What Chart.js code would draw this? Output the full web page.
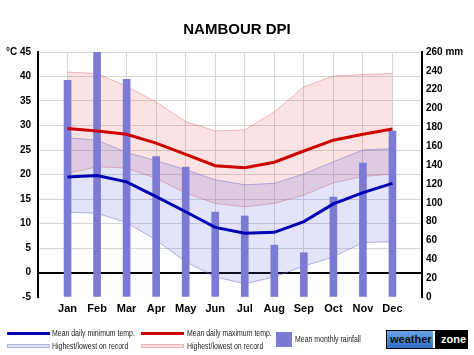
<!DOCTYPE html>
<html><head><meta charset="utf-8">
<script src="https://cdn.jsdelivr.net/npm/chart.js@4.4.0/dist/chart.umd.min.js"></script>
<style>
html,body{margin:0;padding:0;background:#fff;}
#wrap{position:relative;width:474px;height:355px;overflow:hidden;font-family:"Liberation Sans",Arial,sans-serif;}
#c{position:absolute;left:0;top:0;}
#title{position:absolute;left:0;width:474px;top:20px;line-height:18px;text-align:center;font-weight:bold;font-size:15px;color:#000;}
.lg{position:absolute;font-family:"Liberation Sans",Arial,sans-serif;font-size:9px;color:#222;line-height:10px;white-space:nowrap;transform:scaleX(0.77);transform-origin:0 0;}
.sw{position:absolute;box-sizing:border-box;}
#logo{position:absolute;left:386px;top:330px;width:82px;height:19px;border:1px solid #000;box-sizing:border-box;display:flex;font-family:"Liberation Sans",Arial,sans-serif;font-weight:bold;font-size:11px;line-height:17px;overflow:hidden;white-space:nowrap;}
#logo .w{background:linear-gradient(#6aa6e6,#2f6fc4);color:#111;padding:0 0 0 3px;width:46px;box-sizing:border-box;}
#logo .z{background:#000;color:#fff;padding-left:6px;flex:1;border-left:2px solid #fff;transform:skewX(0deg);}
</style></head>
<body>
<div id="wrap">
<canvas id="c" width="474" height="355"></canvas>
<div id="title">NAMBOUR DPI</div>
<div class="sw" style="left:7px;top:332px;width:43px;height:3px;background:#0000b0;"></div>
<div class="lg" style="left:52px;top:328px;">Mean daily minimum temp.</div>
<div class="sw" style="left:7px;top:344px;width:43px;height:4px;background:#e2e2fa;border:1px solid #b4b4e0;"></div>
<div class="lg" style="left:52px;top:341px;">Highest/lowest on record</div>
<div class="sw" style="left:141px;top:332px;width:43px;height:3px;background:#cc0000;"></div>
<div class="lg" style="left:187px;top:328px;">Mean daily maximum temp.</div>
<div class="sw" style="left:141px;top:344px;width:43px;height:4px;background:#fbe2e2;border:1px solid #eab4b4;"></div>
<div class="lg" style="left:187px;top:341px;">Highest/lowest on record</div>
<div class="sw" style="left:276px;top:332px;width:16px;height:15px;background:#7b7bd5;"></div>
<div class="lg" style="left:295px;top:334px;">Mean monthly rainfall</div>
<div id="logo"><span class="w">weather</span><span class="z">zone</span></div>
</div>
<script>
const months = ['Jan','Feb','Mar','Apr','May','Jun','Jul','Aug','Sep','Oct','Nov','Dec'];
const meanMax = [29.4, 28.9, 28.2, 26.4, 24.1, 21.8, 21.4, 22.5, 24.8, 27.0, 28.2, 29.3];
const meanMin = [19.5, 19.8, 18.5, 15.5, 12.4, 9.2, 8.0, 8.2, 10.4, 14.0, 16.3, 18.2];
const highestMax = [40.9, 40.6, 38.0, 34.8, 30.8, 28.9, 29.1, 32.8, 37.9, 40.1, 40.4, 40.6];
const lowestMax = [20.2, 21.6, 21.3, 19.2, 16.2, 14.1, 13.4, 14.1, 15.8, 18.3, 19.6, 20.1];
const highestMin = [27.5, 27.0, 24.5, 22.8, 21.0, 18.9, 17.9, 18.2, 20.1, 22.6, 25.0, 25.3];
const lowestMin = [12.3, 12.1, 10.2, 6.6, 2.2, -0.9, -2.3, -0.9, 1.3, 3.2, 6.1, 6.3];
const rainfall = [230, 260, 231, 149, 138, 90, 86, 55, 47, 106, 142, 176];

const pts = arr => arr.map((v, i) => ({x: i, y: v}));
const tickFont = {family: '"Liberation Sans", Arial, sans-serif', weight: 'bold', size: 10};

new Chart(document.getElementById('c'), {
  type: 'line',
  data: {
    datasets: [
      {data: pts(highestMax), borderColor: 'rgba(215,110,110,0.45)', borderWidth: 1, backgroundColor: 'rgba(230,60,60,0.14)', fill: '+1', pointRadius: 0, order: 5, yAxisID: 'y'},
      {data: pts(lowestMax), borderColor: 'rgba(215,110,110,0.45)', borderWidth: 1, fill: false, pointRadius: 0, order: 5, yAxisID: 'y'},
      {data: pts(highestMin), borderColor: 'rgba(110,110,200,0.5)', borderWidth: 1, backgroundColor: 'rgba(80,80,220,0.16)', fill: '+1', pointRadius: 0, order: 4, yAxisID: 'y'},
      {data: pts(lowestMin), borderColor: 'rgba(110,110,200,0.5)', borderWidth: 1, fill: false, pointRadius: 0, order: 4, yAxisID: 'y'},
      {type: 'bar', data: pts(rainfall), backgroundColor: '#7b7bd5', barThickness: 7, order: 3, yAxisID: 'y1'},
      {data: pts(meanMax), borderColor: '#cc0000', borderWidth: 3, fill: false, pointRadius: 0, order: 1, yAxisID: 'y'},
      {data: pts(meanMin), borderColor: '#0000b4', borderWidth: 3, fill: false, pointRadius: 0, order: 1, yAxisID: 'y'}
    ]
  },
  options: {
    responsive: false,
    animation: false,
    devicePixelRatio: 1,
    layout: {padding: {top: 52, left: 0, right: 0, bottom: 0}},
    plugins: {legend: {display: false}, tooltip: {enabled: false}, title: {display: false}},
    scales: {
      x: {
        type: 'linear', min: -1, max: 12, offset: false,
        afterFit: s => { s.height = 58; },
        grid: {color: '#d6d6d6', lineWidth: 1, drawTicks: false, offset: false},
        border: {display: false},
        ticks: {stepSize: 1, autoSkip: false, maxRotation: 0, padding: 5, color: '#000',
          font: {family: '"Liberation Sans", Arial, sans-serif', weight: 'bold', size: 11},
          callback: v => (Number.isInteger(v) && v >= 0 && v < 12) ? months[v] : ''}
      },
      y: {
        type: 'linear', position: 'left', min: -5, max: 45,
        afterFit: s => { s.width = 38; },
        grid: {drawTicks: false,
          color: c => c.tick.value === 0 ? '#000' : (c.tick.value === -5 ? 'rgba(0,0,0,0)' : '#d6d6d6'),
          lineWidth: c => c.tick.value === 0 ? 2 : 1},
        border: {display: true, color: '#000', width: 2},
        ticks: {stepSize: 5, padding: 7, color: '#000', font: tickFont,
          callback: v => v === 45 ? '°C 45' : v}
      },
      y1: {
        type: 'linear', position: 'right', min: 0, max: 260,
        afterFit: s => { s.width = 52; },
        grid: {drawOnChartArea: false, drawTicks: false},
        border: {display: true, color: '#000', width: 2},
        ticks: {stepSize: 20, padding: 4, color: '#000', font: tickFont,
          callback: v => v === 260 ? '260 mm' : v}
      }
    }
  }
});
</script>
</body></html>
